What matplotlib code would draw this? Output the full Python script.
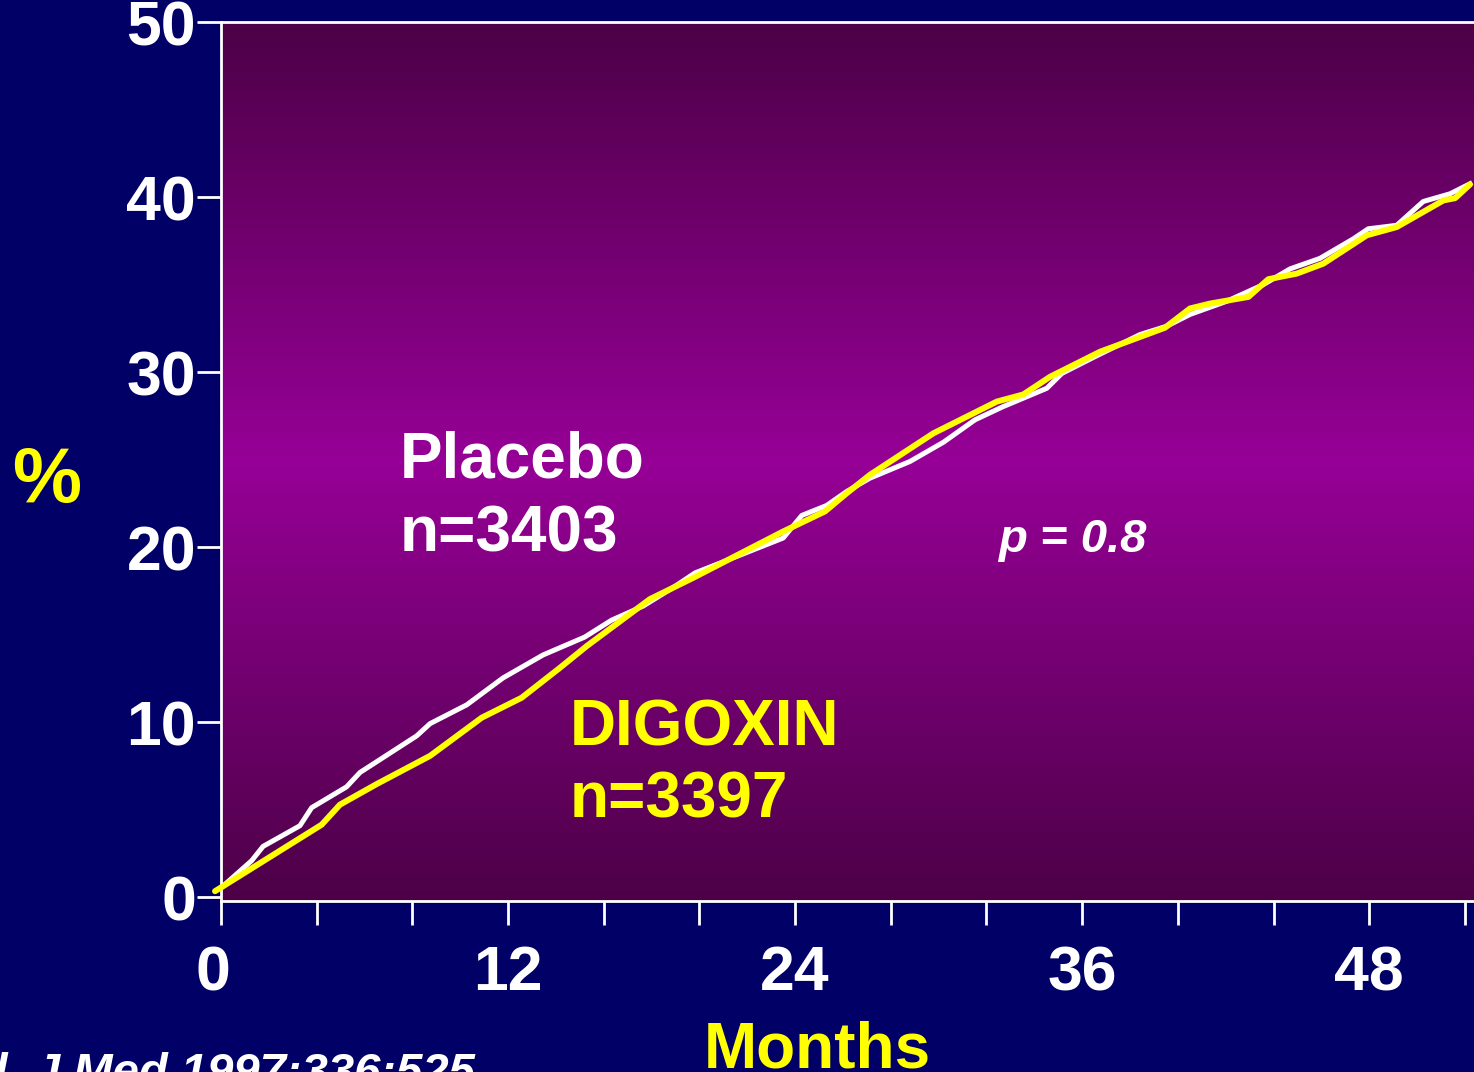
import numpy as np
import matplotlib
matplotlib.use('Agg')
import matplotlib.pyplot as plt
import matplotlib.transforms as mtransforms

plt.rcParams['font.family'] = ['Liberation Sans', 'DejaVu Sans']

# Placebo (white) curve, months vs cumulative %
placebo_m = [0.0, 1.28, 1.76, 3.3, 3.79, 5.25, 5.81, 8.18, 8.74, 10.27, 11.79, 13.46,
             15.2, 16.33, 17.64, 18.9, 19.82, 20.86, 23.5, 24.28, 25.32, 26.16, 27.13,
             28.8, 30.2, 31.52, 32.69, 34.52, 35.15, 36.61, 38.42, 39.54, 40.51,
             42.04, 43.57, 44.69, 45.94, 47.34, 47.96, 49.15, 50.26, 51.38, 52.21]
placebo_y = [0.55, 2.1, 2.92, 4.1, 5.13, 6.32, 7.14, 9.23, 9.93, 11.0, 12.54, 13.85,
             14.87, 15.84, 16.64, 17.7, 18.54, 19.1, 20.53, 21.82, 22.39, 23.19, 23.95,
             24.9, 26.0, 27.28, 28.03, 29.08, 29.93, 30.94, 32.15, 32.63, 33.3,
             34.05, 35.0, 35.9, 36.5, 37.62, 38.19, 38.39, 39.75, 40.19, 40.76]

# Digoxin (yellow) curve
digoxin_m = [-0.25, 4.21, 4.97, 6.51, 8.74, 10.9, 12.57, 14.17, 15.29, 17.93, 19.73,
             23.51, 25.25, 26.16, 27.13, 29.78, 32.43, 33.54, 34.66, 36.75, 39.46,
             40.51, 41.35, 42.95, 43.78, 44.97, 46.08, 47.9, 49.15, 51.1, 51.59, 52.21]
digoxin_y = [0.36, 4.16, 5.3, 6.48, 8.09, 10.27, 11.41, 13.12, 14.36, 17.04, 18.25,
             20.91, 22.05, 23.09, 24.14, 26.51, 28.32, 28.73, 29.74, 31.17, 32.54,
             33.64, 33.92, 34.3, 35.31, 35.63, 36.2, 37.82, 38.29, 39.81, 39.94, 40.72]

x_ticks = np.arange(0, 53, 4)
x_labels = ['0' if t == 0 else (str(t) if t % 12 == 0 else '') for t in x_ticks]
y_ticks = [0, 10, 20, 30, 40, 50]

W, H = 1474, 1072
fig = plt.figure(figsize=(W / 100, H / 100), dpi=100)
fig.patch.set_facecolor('#000066')

ax = fig.add_axes([221 / W, 1 - 901 / H, (W - 221) / W, (901 - 22) / H])

# vertical purple gradient background
t = np.linspace(0, 1, 256)
g = 1 - np.abs(t - 0.5) / 0.5
dark = np.array([0.30, 0.0, 0.28])
bright = np.array([0.59, 0.0, 0.59])
grad = dark[None, :] + (bright - dark)[None, :] * g[:, None]
ax.imshow(grad[:, None, :], extent=[0, 1, 0, 1], transform=ax.transAxes,
          aspect='auto', zorder=0)

ax.plot(placebo_m, placebo_y, color='white', lw=3.6, zorder=3, clip_on=False)
ax.plot(digoxin_m, digoxin_y, color='#ffff00', lw=4.3, zorder=4, clip_on=False,
        solid_capstyle='round')

ax.set_xlim(0, 52.38)
ax.set_ylim(-0.2, 50)

ax.set_xticks(x_ticks)
ax.set_xticklabels(x_labels)
ax.set_yticks(y_ticks)
ax.tick_params(axis='both', colors='white', width=2, length=17, direction='out',
               labelsize=45)
ax.tick_params(axis='x', pad=14)
ax.tick_params(axis='y', pad=1)
for lab in ax.get_xticklabels() + ax.get_yticklabels():
    lab.set_fontweight('bold')
# the "0" under the origin sits a little to the left
lab0 = ax.get_xticklabels()[0]
lab0.set_transform(lab0.get_transform() +
                   mtransforms.ScaledTranslation(-8 / 100, 0, fig.dpi_scale_trans))

for s in ['left', 'bottom', 'top']:
    ax.spines[s].set_color('white')
    ax.spines[s].set_linewidth(2)
ax.spines['right'].set_visible(False)

def ftext(px, py, s, **kw):
    fig.text(px / W, 1 - py / H, s, va='baseline', ha='left', fontweight='bold', **kw)

ftext(400, 478, 'Placebo', color='white', fontsize=46)
ftext(400, 552, 'n=3403', color='white', fontsize=46)
ftext(570, 745, 'DIGOXIN', color='#ffff00', fontsize=46)
ftext(570, 818, 'n=3397', color='#ffff00', fontsize=46)
ftext(998, 552, 'p = 0.8', color='white', fontsize=34, style='italic')
ftext(12, 502, '%', color='#ffff00', fontsize=56)
ftext(704, 1068, 'Months', color='#ffff00', fontsize=46)
fig.text(475 / W, 1 - 1086 / H, 'N Engl. J Med 1997;336:525', color='white',
         fontsize=34, fontweight='bold', style='italic', ha='right', va='baseline')

fig.savefig('out.png', dpi=100, facecolor=fig.get_facecolor())
